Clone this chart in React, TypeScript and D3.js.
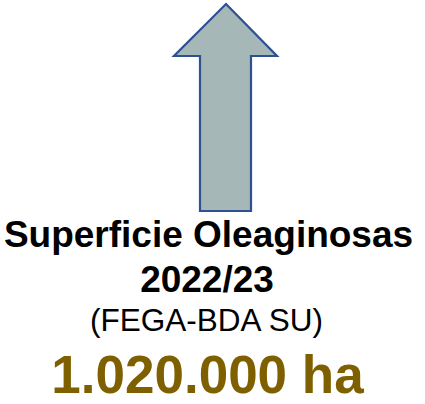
import React from "react";
import * as d3 from "d3";

const titleLines = ["Superficie Oleaginosas", "2022/23"];
const sourceLabel = "(FEGA-BDA SU)";
const valueHa = [1020000];
const unit = "ha";

const W = 425, H = 404;

export default function App() {
  const fmt = (v: number) => d3.format(",")(v).replace(/,/g, ".");
  const cx = 226;
  const arrow = d3.line()([
    [cx, 4], [277, 56], [251, 56], [251, 211], [200, 211], [200, 56], [174, 56], [cx, 4],
  ] as [number, number][]) as string;
  return (
    <svg width={W} height={H} style={{ position: "absolute", left: 0, top: 0 }} fontFamily="'Liberation Sans', Arial, sans-serif">
      <rect width={W} height={H} fill="#fff" />
      <path d={arrow + "Z"} fill="#a5b7b7" stroke="#2e5193" strokeWidth={2.2} strokeLinejoin="miter" />
      <text x={208.5} y={247} textAnchor="middle" fontWeight="bold" fontSize={37} fill="#000">{titleLines[0]}</text>
      <text x={207} y={292} textAnchor="middle" fontWeight="bold" fontSize={37} fill="#000">{titleLines[1]}</text>
      <text x={206.5} y={331} textAnchor="middle" fontSize={31.5} fill="#000">{sourceLabel}</text>
      <text x={207.5} y={393} textAnchor="middle" fontWeight="bold" fontSize={53} fill="#7f6000">{fmt(valueHa[0])} {unit}</text>
    </svg>
  );
}
